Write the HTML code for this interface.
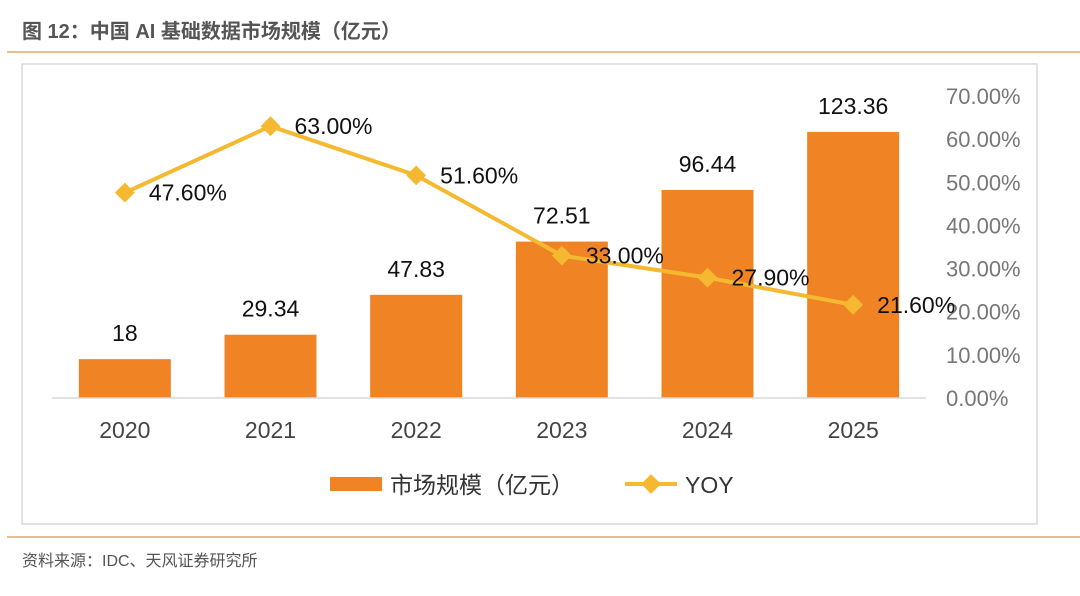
<!DOCTYPE html>
<html><head><meta charset="utf-8"><style>
body{margin:0;background:#fff;width:1080px;height:591px;overflow:hidden;font-family:"Liberation Sans","Noto Sans CJK SC",sans-serif}
</style></head><body>
<svg width="1080" height="591" viewBox="0 0 1080 591">
<text x="22" y="38" font-size="20" font-weight="bold" fill="#555" font-family="Liberation Sans,Noto Sans CJK SC,sans-serif">图 12：中国 AI 基础数据市场规模（亿元）</text>
<line x1="7" y1="52" x2="1080" y2="52" stroke="#e7a76a" stroke-width="1.5"/>
<rect x="22" y="64" width="1015" height="460" fill="#fff" stroke="#d9d9d9" stroke-width="1.5"/>
<g id="plot"></g>
<line x1="7" y1="537" x2="1080" y2="537" stroke="#e7a76a" stroke-width="1.5"/>
<text x="22" y="566" font-size="16" fill="#555" font-family="Liberation Sans,Noto Sans CJK SC,sans-serif">资料来源：IDC、天风证券研究所</text>
<g>
<rect x="330" y="477" width="52" height="14" fill="#f08424"/>
<text x="390" y="493" font-size="23" fill="#333" font-family="Liberation Sans,Noto Sans CJK SC,sans-serif">市场规模（亿元）</text>
<line x1="625" y1="484" x2="677" y2="484" stroke="#f5b931" stroke-width="4"/>
<rect x="644" y="477" width="14" height="14" fill="#f5b931" transform="rotate(45 651 484)"/>
<text x="685" y="493" font-size="23" fill="#333">YOY</text>
</g>
</svg>
<script>
const categories=["2020","2021","2022","2023","2024","2025"];
const marketSize=[18,29.34,47.83,72.51,96.44,123.36];
const yoy=[47.6,63.0,51.6,33.0,27.9,21.6];
const rightTicks=[0,10,20,30,40,50,60,70];
const NS="http://www.w3.org/2000/svg";
const g=document.getElementById('plot');
const x0=52,x1=926,base=398,yTop=96;
const step=(x1-x0)/categories.length;
const xc=i=>x0+step*(i+0.5);
const yL=v=>base-(v/140)*(base-yTop);
const yR=v=>base-(v/70)*(base-yTop);
function mk(t,a){const e=document.createElementNS(NS,t);for(const k in a)e.setAttribute(k,a[k]);g.appendChild(e);return e;}
rightTicks.forEach(t=>{const e=mk('text',{x:946,y:yR(t)+8,'font-size':22,fill:'#777'});e.textContent=t.toFixed(2)+'%';

});
marketSize.forEach((v,i)=>{const r=mk('rect',{x:xc(i)-46,y:yL(v),width:92,height:base-yL(v),fill:'#f08424'});


const t=mk('text',{x:xc(i),y:yL(v)-18,'font-size':23,fill:'#111','text-anchor':'middle'});t.textContent=String(v);


const c=mk('text',{x:xc(i),y:438,'font-size':23,fill:'#444','text-anchor':'middle'});c.textContent=categories[i];

});
const ax=mk('line',{x1:x0,y1:base,x2:x1,y2:base,stroke:'#d9d9d9','stroke-width':1.5});


const pl=mk('polyline',{points:yoy.map((v,i)=>xc(i)+','+yR(v)).join(' '),fill:'none',stroke:'#f5b931','stroke-width':4});


yoy.forEach((v,i)=>{const d=mk('rect',{x:xc(i)-7,y:yR(v)-7,width:14,height:14,fill:'#f5b931',transform:`rotate(45 ${xc(i)} ${yR(v)})`});


const t=mk('text',{x:xc(i)+24,y:yR(v)+8,'font-size':23,fill:'#111'});t.textContent=v.toFixed(2)+'%';

});
</script>
</body></html>
